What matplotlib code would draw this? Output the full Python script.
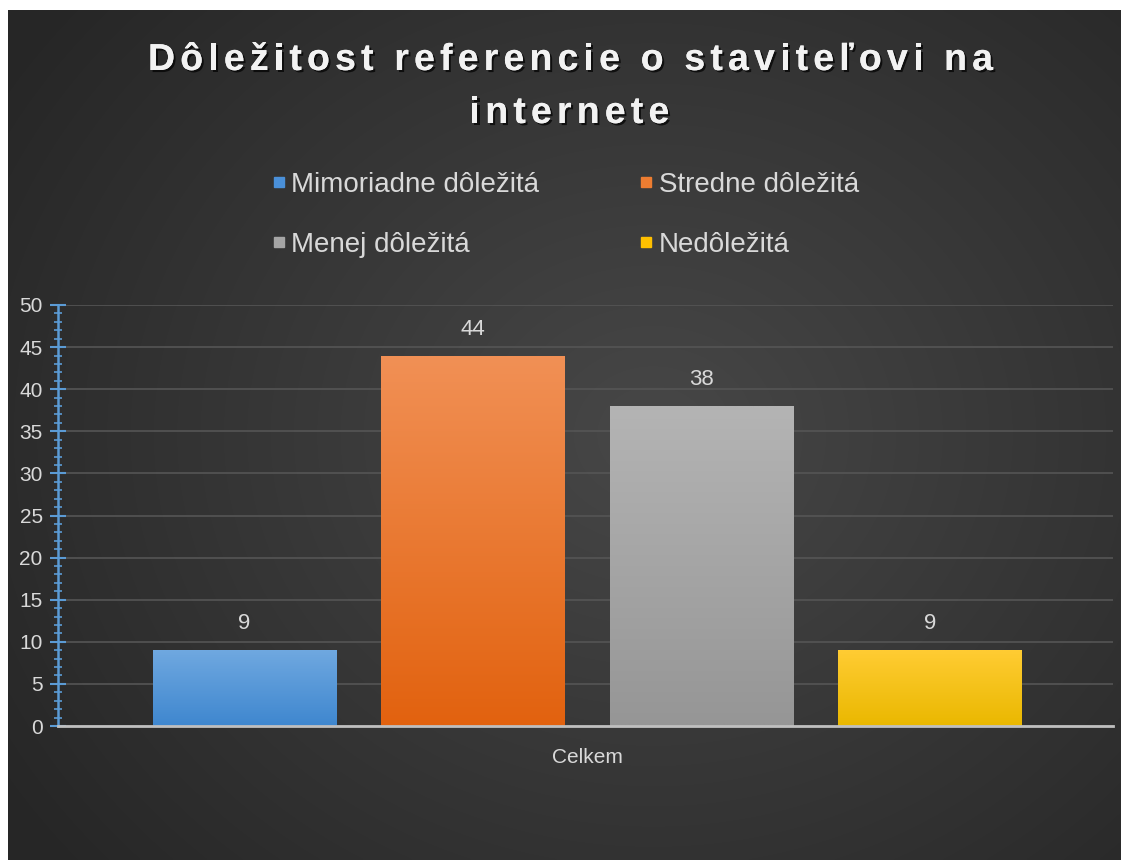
import numpy as np
import matplotlib.pyplot as plt
import matplotlib.patheffects as pe
from matplotlib.colors import to_rgb
from matplotlib.lines import Line2D
from matplotlib.font_manager import FontProperties, findfont, get_font

# --- data ---
categories = ["Mimoriadne dôležitá", "Stredne dôležitá", "Menej dôležitá", "Nedôležitá"]
values = [9, 44, 38, 9]
group_label = "Celkem"
title_lines = ["Dôležitost referencie o staviteľovi na", "internete"]

# top / bottom colours of the bar gradients
bar_top = ["#6fa8e0", "#f19055", "#b4b4b4", "#ffcc33"]
bar_bottom = ["#3f87cf", "#e2620f", "#969696", "#eab800"]
legend_colors = ["#4a90d9", "#ed7d31", "#a5a5a5", "#ffc000"]

W, H = 1121, 860
FONT = "Liberation Sans"
TXT = "#d9d9d9"

fig = plt.figure(figsize=(W / 100, H / 100), dpi=100)
fig.patch.set_facecolor("white")

# dark radial background (white strip left/top like the screenshot)
bg = fig.add_axes([8 / W, 0, 1 - 8 / W, (H - 10) / H], zorder=-2)
yy, xx = np.mgrid[0:1:400j, 0:1:500j]
r = np.sqrt(((xx - 0.58) / 0.75) ** 2 + ((yy - 0.5) / 0.85) ** 2)
shade = np.clip(0.28 - 0.14 * r, 0.15, 0.28)
bg.imshow(np.dstack([shade] * 3), aspect="auto", extent=(0, 1, 0, 1), interpolation="bilinear")
bg.set_axis_off()

ax = fig.add_axes([58 / W, (H - 726) / H, (1113 - 58) / W, (726 - 305) / H])
ax.patch.set_alpha(0)

x = np.arange(len(values))
bars = ax.bar(x, values, width=0.805, color="none", zorder=3)
for b, top, bot in zip(bars, bar_top, bar_bottom):
    t = np.linspace(0, 1, 64)[:, None]
    grad = (np.array(to_rgb(top)) * (1 - t) + np.array(to_rgb(bot)) * t)[:, None, :]
    x0 = b.get_x()
    im = ax.imshow(grad, aspect="auto", extent=(x0, x0 + b.get_width(), 0, b.get_height()),
                   zorder=3, interpolation="bilinear")
    im.set_clip_path(b)

for xi, v in zip(x, values):
    ax.annotate(str(v), (xi, v), xytext=(0, 19), textcoords="offset points", ha="center",
                va="center", color=TXT, fontsize=16, family=FONT)

ax.set_xlim(-0.816, 3.80)
ax.set_ylim(0, 50)
ax.set_yticks(np.arange(0, 51, 5))
ax.set_yticks(np.arange(0, 51, 1), minor=True)
ax.set_xticks([1.5])
ax.set_xticklabels([group_label])
ax.tick_params(axis="x", length=0, pad=16, labelsize=15, labelcolor=TXT)
ax.tick_params(axis="y", which="major", direction="inout", length=12, width=1.5, color="#5b9bd5",
               labelsize=15, labelcolor=TXT, pad=5)
ax.tick_params(axis="y", which="minor", direction="inout", length=6, width=1.2, color="#5b9bd5")
for lab in ax.get_xticklabels() + ax.get_yticklabels():
    lab.set_family(FONT)

ax.grid(axis="y", color="#555555", linewidth=1.2, zorder=0)
ax.set_axisbelow(True)
for s in ["top", "right"]:
    ax.spines[s].set_visible(False)
ax.spines["left"].set_color("#5b9bd5")
ax.spines["left"].set_linewidth(1.8)
ax.spines["bottom"].set_color("#bfbfbf")
ax.spines["bottom"].set_linewidth(2)
ax.spines["bottom"].set_zorder(4)

# legend is filled row by row in the reference, matplotlib fills by column
order = [0, 2, 1, 3]
handles = [Line2D([], [], marker="s", linestyle="none", markersize=7.5, color=legend_colors[i]) for i in order]
fig.legend(handles, [categories[i] for i in order], loc="center", bbox_to_anchor=(0.5045, 1 - 215 / H),
           ncol=2, frameon=False, labelcolor=TXT, handlelength=0.5, handletextpad=0.2,
           columnspacing=3.6, labelspacing=1.22, prop={"family": FONT, "size": 20})

# title with wide letter spacing, drawn glyph by glyph
tsize = 27
tfont = get_font(findfont(FontProperties(family=FONT, weight="bold")))
tfont.set_size(tsize, 100)


def advances(s):
    return [tfont.load_char(ord(c)).linearHoriAdvance / 65536 for c in s]


base = sum(advances(title_lines[0]))
spacing = (845 - base) / (len(title_lines[0]) - 1)
shadow = [pe.withSimplePatchShadow(offset=(1.5, -1.5), shadow_rgbFace="black", alpha=0.7), pe.Normal()]
for line, xc, yb in zip(title_lines, [570.5, 569.5], [70, 123]):
    adv = advances(line)
    pos = xc - (sum(adv) + spacing * (len(line) - 1)) / 2
    for ch, a in zip(line, adv):
        if ch != " ":
            fig.text(pos / W, 1 - yb / H, ch, ha="left", va="baseline", fontsize=tsize,
                     fontweight="bold", color="#f2f2f2", family=FONT, path_effects=shadow)
        pos += a + spacing

fig.savefig("out.png", dpi=100, facecolor=fig.get_facecolor())
